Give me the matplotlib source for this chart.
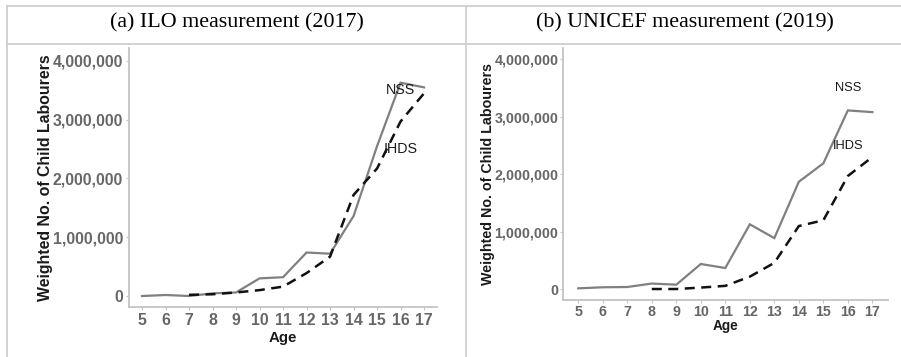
import numpy as np
import matplotlib.pyplot as plt
from matplotlib.lines import Line2D

# ages on the x axis
ages = list(range(5, 18))

# (a) ILO measurement (2017)
ilo_nss = [0, 17000, 0, 45000, 60000, 300000, 320000, 740000, 720000,
           1360000, 2550000, 3630000, 3550000]
ilo_ihds = [np.nan, np.nan, 20000, 30000, 60000, 100000, 160000, 390000,
            670000, 1720000, 2170000, 2970000, 3450000]

# (b) UNICEF measurement (2019)
unicef_nss = [17000, 35000, 40000, 100000, 80000, 440000, 370000, 1130000,
              890000, 1870000, 2190000, 3110000, 3080000]
unicef_ihds = [np.nan, np.nan, np.nan, 5000, 5000, 30000, 60000, 220000,
               460000, 1100000, 1200000, 1970000, 2300000]

yticks = [0, 1000000, 2000000, 3000000, 4000000]
titles = ['(a) ILO measurement (2017)', '(b) UNICEF measurement (2019)']

plt.rcParams['font.family'] = ['Liberation Sans', 'DejaVu Sans']

W, H = 901, 357
fig = plt.figure(figsize=(W / 100, H / 100), dpi=100)


def px(x0, y0, x1, y1):
    # pixel box -> figure fraction rect
    return [x0 / W, 1 - y1 / H, (x1 - x0) / W, (y1 - y0) / H]


def draw_panel(rect, nss, ihds, xlim, ylim, fs, xlab_y, ylab_x, xpad, ypad):
    ax = fig.add_axes(rect)
    ax.plot(ages, nss, color='#808080', lw=1.6, solid_joinstyle='miter')
    ax.plot(ages, ihds, color='#111111', lw=1.8, dashes=(4, 2.6))
    ax.set_xlim(*xlim)
    ax.set_ylim(*ylim)
    tick_font = dict(fontweight='bold', color='#666666', fontsize=fs)
    ax.set_xticks(ages, labels=[str(a) for a in ages], **tick_font)
    ax.set_yticks(yticks, labels=[f'{v:,}' for v in yticks], **tick_font)
    for s in ['top', 'right']:
        ax.spines[s].set_visible(False)
    for s in ['left', 'bottom']:
        ax.spines[s].set_color('#c4c4c4')
        ax.spines[s].set_linewidth(1.3)
    ax.tick_params(axis='both', colors='#c4c4c4', length=2.5, width=0.8,
                   labelcolor='#666666')
    ax.tick_params(axis='x', pad=xpad)
    ax.tick_params(axis='y', pad=ypad)
    ax.set_xlabel('Age', fontsize=fs * 0.95, fontweight='bold', color='#1a1a1a',
                  va='center')
    ax.set_ylabel('Weighted No. of Child Labourers', fontsize=fs,
                  fontweight='bold', color='#1a1a1a', va='center')
    ax.xaxis.set_label_coords(0.5, xlab_y)
    ax.yaxis.set_label_coords(ylab_x, 0.5)
    ax.text(16, 3500000, 'NSS', ha='center', va='center', fontsize=fs * 0.9,
            color='#1a1a1a')
    ax.text(16, 2500000, 'IHDS', ha='center', va='center', fontsize=fs * 0.9,
            color='#1a1a1a')
    return ax


draw_panel(px(128.7, 48, 437, 307), ilo_nss, ilo_ihds,
           (4.434, 17.55), (-187000, 4220000), 11.4,
           -0.118, -0.27, 2.0, 1.5)
draw_panel(px(563.3, 48.3, 888.3, 300), unicef_nss, unicef_ihds,
           (4.39, 17.65), (-186000, 4190000), 10.3,
           -0.105, -0.233, 1.0, 1.0)

# table grid around the two panels
grid = dict(color='#cfcfcf', lw=1.3, transform=fig.transFigure)
fig.add_artist(Line2D([6.7 / W, 1], [1 - 6 / H, 1 - 6 / H], **grid))
fig.add_artist(Line2D([6.7 / W, 1], [1 - 44 / H, 1 - 44 / H], **grid))
fig.add_artist(Line2D([6.7 / W, 6.7 / W], [0, 1 - 6 / H], **grid))
fig.add_artist(Line2D([466 / W, 466 / W], [0, 1 - 6 / H], **grid))

fig.text(236.5 / W, 1 - 23 / H, titles[0], ha='center', va='center',
         fontsize=15.8, family=['Liberation Serif', 'DejaVu Serif'])
fig.text(685 / W, 1 - 23 / H, titles[1], ha='center', va='center',
         fontsize=15.8, family=['Liberation Serif', 'DejaVu Serif'])

fig.savefig('out.png', dpi=100)
